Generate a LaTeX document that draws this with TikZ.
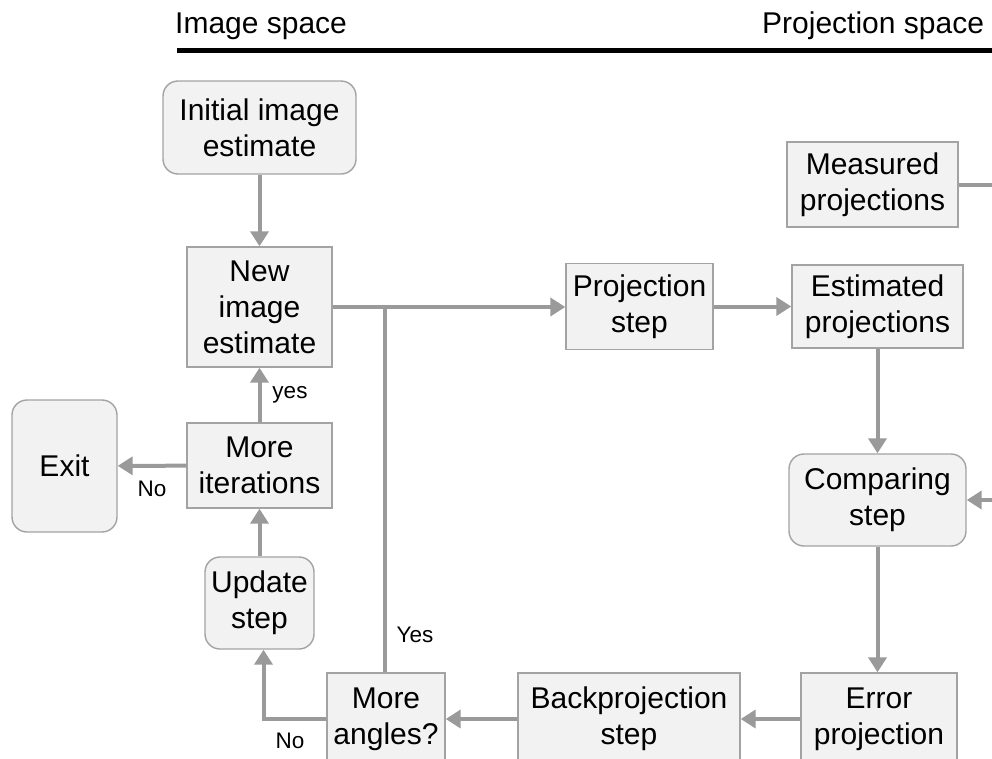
\documentclass[tikz,border=0pt]{standalone}
\usepackage{fontspec}
\setmainfont{Liberation Sans}
\usetikzlibrary{arrows.meta}
\definecolor{boxfill}{HTML}{F2F2F2}
\definecolor{boxline}{HTML}{A3A3A3}
\definecolor{arrgray}{HTML}{9A9A9A}
\tikzset{
  box/.style={draw=boxline, line width=1.4pt, fill=boxfill, inner sep=0pt, align=center,
    font=\fontsize{30}{36}\selectfont},
  rbox/.style={box, rounded corners=15pt},
  conn/.style={draw=arrgray, line width=4pt},
  arr/.style={conn, -{Triangle[length=15pt,width=18pt]}},
  lbl/.style={inner sep=0pt, font=\fontsize{22.5}{26}\selectfont},
  title/.style={inner sep=0pt, anchor=base west, font=\fontsize{30}{36}\selectfont}
}
\begin{document}
\begin{tikzpicture}[x=1pt,y=-1pt]
\useasboundingbox (0,0) rectangle (992,758);
\clip (0,0) rectangle (992,758);
\fill[white] (0,0) rectangle (992,758);

% titles
\node[title] (tImg) at (175,33) {Image space};
\node[title] (tProj) at (762,33) {Projection space};
\coordinate (ruleL) at (177,50.5);
\coordinate (ruleR) at (992,50.5);
\draw[line width=5pt] (ruleL) -- (ruleR);

% nodes
\node[rbox, minimum width=193pt, minimum height=93pt] (init) at (259.5,127.5) {Initial image\\estimate};
\node[box, minimum width=145pt, minimum height=120pt] (new) at (259.5,307) {New\\image\\estimate};
\node[box, minimum width=145pt, minimum height=85pt] (moreit) at (259.5,465.5) {More\\iterations};
\node[rbox, minimum width=105pt, minimum height=132pt] (exit) at (64.5,466) {Exit};
\node[rbox, minimum width=109pt, minimum height=92pt] (update) at (259.5,603) {Update\\step};
\node[box, minimum width=118pt, minimum height=92pt] (moreang) at (386,719) {More\\angles?};
\node[box, minimum width=222pt, minimum height=92pt] (back) at (629,719) {Backprojection\\step};
\node[box, minimum width=156pt, minimum height=92pt] (err) at (879,719) {Error\\projection};
\node[rbox, minimum width=177pt, minimum height=92pt] (comp) at (877.5,500) {Comparing\\step};
\node[box, minimum width=171pt, minimum height=83pt] (est) at (877.5,306.5) {Estimated\\projections};
\node[box, minimum width=171pt, minimum height=85pt] (meas) at (872.5,184.5) {Measured\\projections};
\node[box, minimum width=147pt, minimum height=86pt] (proj) at (639.5,306.5) {Projection\\step};

\coordinate (measEnd) at (992,184.5);
\coordinate (compIn) at (992,500);

% connectors
\draw[arr] (init) -- (new);
\draw[arr] (new.east) -- (new.east -| proj.west);
\draw[arr] (proj) -- (est);
\draw[arr] (est) -- (comp);
\draw[arr] (comp.south) -- (comp.south |- err.north);
\draw[arr] (err) -- (back);
\draw[arr] (back) -- (moreang);
\draw[arr] (moreang.west) -| ([xshift=4pt]update.south);
\draw[arr] (update) -- (moreit);
\draw[arr] (moreit) -- (new);
\draw[arr] (moreit) -- (exit);
\draw[conn] ([xshift=-1pt]moreang.north) -- ([xshift=-1pt]moreang.north |- new.east);
\draw[conn] (meas.east) -- (measEnd);
\draw[arr] (compIn) -- (comp.east);

% labels
\node[lbl] (lyes) at (290,395) {yes};
\node[lbl] (lno1) at (152,489) {No};
\node[lbl] (lYes) at (415,635) {Yes};
\node[lbl] (lno2) at (290,741) {No};
\end{tikzpicture}
\end{document}
